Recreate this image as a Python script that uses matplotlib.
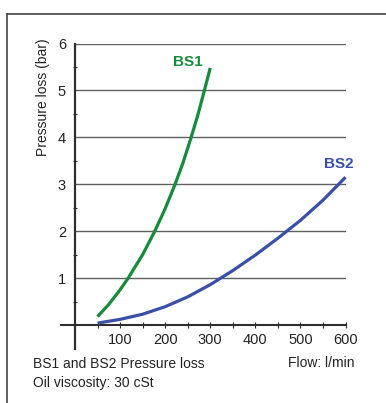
import matplotlib
matplotlib.use("Agg")
import matplotlib.pyplot as plt
from matplotlib.lines import Line2D

plt.rcParams['font.family'] = ['Liberation Sans', 'DejaVu Sans']

# Data
bs1_flow = [50, 75, 100, 118, 150, 176, 200, 222, 240, 257, 272, 287, 300]
bs1_pressure = [0.18, 0.44, 0.75, 1.0, 1.5, 1.98, 2.48, 3.0, 3.47, 3.98, 4.46, 5.0, 5.48]
bs2_flow = [50, 100, 150, 200, 250, 300, 350, 400, 450, 500, 550, 600]
bs2_pressure = [0.04, 0.12, 0.23, 0.39, 0.60, 0.86, 1.16, 1.49, 1.85, 2.23, 2.66, 3.15]

x_major = [100, 200, 300, 400, 500, 600]
x_minor = [50, 150, 250, 350, 450, 550]
y_major = [1, 2, 3, 4, 5, 6]
y_minor = [0.5, 1.5, 2.5, 3.5, 4.5, 5.5]

W, H = 386, 403
fig = plt.figure(figsize=(W / 100, H / 100), dpi=100)
fig.patch.set_facecolor('white')

ax = fig.add_axes([75 / W, 78 / H, 270.5 / W, 281.5 / H])
ax.set_xlim(0, 600)
ax.set_ylim(0, 6)
for s in ax.spines.values():
    s.set_visible(False)

green = '#178a3c'
blue = '#3a50a8'
axis_col = '#2e2e2e'
grid_col = '#606060'
text_col = '#222222'

# gridlines
ax.hlines(y_major, 0, 600, colors=grid_col, linewidth=1.0, zorder=1)

# axis lines (extended)
ax.plot([-31, 600], [0, 0], color=axis_col, linewidth=1.5, clip_on=False, zorder=3)
ax.plot([0, 0], [-0.51, 6], color=axis_col, linewidth=1.6, clip_on=False, zorder=3)

# curves
ax.plot(bs1_flow, bs1_pressure, color=green, linewidth=2.3, solid_capstyle='butt',
        solid_joinstyle='round', clip_on=False, zorder=4)
ax.plot(bs2_flow, bs2_pressure, color=blue, linewidth=2.3, solid_capstyle='butt',
        solid_joinstyle='round', clip_on=False, zorder=4)

# ticks
ax.set_xticks(x_major)
ax.set_xticklabels([str(v) for v in x_major])
ax.set_xticks(x_minor, minor=True)
ax.tick_params(axis='x', which='both', direction='inout', length=5, width=0.8,
               color=axis_col, pad=3.0, labelsize=10.5, labelcolor=text_col)
ax.set_yticks(y_major)
ax.set_yticklabels([str(v) for v in y_major])
ax.set_yticks(y_minor, minor=True)
ax.tick_params(axis='y', which='major', length=0, pad=6.5, labelsize=10.5,
               labelcolor=text_col)
ax.tick_params(axis='y', which='minor', direction='inout', length=3, width=0.8,
               color=axis_col)

# labels
fig.text(42.5 / W, 1 - 97 / H, 'Pressure loss (bar)', rotation=90, ha='center',
         va='center', fontsize=10, color=text_col)
fig.text(188 / W, 1 - 61.5 / H, 'BS1', ha='center', va='center', fontsize=11,
         fontweight='bold', color=green)
fig.text(338.5 / W, 1 - 164 / H, 'BS2', ha='center', va='center', fontsize=11,
         fontweight='bold', color=blue)
fig.text(33.3 / W, 34.7 / H, 'BS1 and BS2 Pressure loss', ha='left', va='baseline',
         fontsize=10, color=text_col)
fig.text(33.3 / W, 15.5 / H, 'Oil viscosity: 30 cSt', ha='left', va='baseline',
         fontsize=10, color=text_col)
fig.text(354 / W, 36.3 / H, 'Flow: l/min', ha='right', va='baseline',
         fontsize=10, color=text_col)

# outer frame (top and left edges)
fig.add_artist(Line2D([7 / W, 1.0], [1 - 13.5 / H, 1 - 13.5 / H],
                      transform=fig.transFigure, color='#444444', linewidth=1.2))
fig.add_artist(Line2D([7 / W, 7 / W], [0, 1 - 13.5 / H],
                      transform=fig.transFigure, color='#444444', linewidth=1.2))

fig.savefig('out.png', dpi=100, facecolor='white')
